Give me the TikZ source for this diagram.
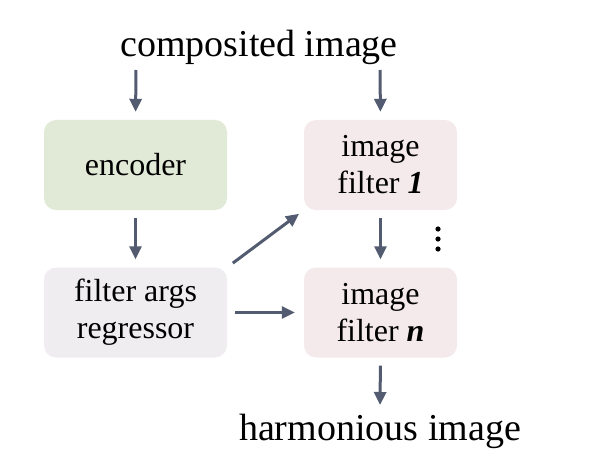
\documentclass[tikz,border=0pt]{standalone}
\usepackage{fontspec}
\setmainfont{Liberation Serif}
\usetikzlibrary{arrows.meta}
\definecolor{encgreen}{HTML}{E1EAD6}
\definecolor{fltpink}{HTML}{F5EAEB}
\definecolor{reggray}{HTML}{EFEDF0}
\definecolor{arrowslate}{HTML}{525B70}
\begin{document}
\begin{tikzpicture}[x=1pt,y=-1pt,
  box/.style={rounded corners=12pt, minimum height=90pt, align=center, inner sep=0pt,
    font=\fontsize{32}{37}\selectfont},
  lbl/.style={anchor=base, font=\fontsize{38}{44}\selectfont},
  flow/.style={-{Triangle[length=13pt,width=12pt]}, line width=3pt, arrowslate}]
\useasboundingbox (0,0) rectangle (610,468);
\node[lbl] (top) at (259,57) {composited image};
\node[lbl] (out) at (380,440) {harmonious image};
\node[box, fill=encgreen, minimum width=183pt] (enc) at (135.5,165) {encoder};
\node[box, fill=reggray, minimum width=183pt] (reg) at (135.5,312.5) {filter args\\regressor};
\node[box, fill=fltpink, minimum width=153pt] (flt1) at (380.5,165) {image\\filter \textbf{\textit{1}}};
\node[box, fill=fltpink, minimum width=153pt] (fltn) at (380.5,312.5) {image\\filter \textbf{\textit{n}}};
\coordinate (in1) at (136,70); \coordinate (in2) at (380,70); \coordinate (outtop) at (380,405);
\draw[flow, shorten >=8pt] (in1) -- (enc.north);
\draw[flow, shorten >=8pt] (in2) -- (flt1.north);
\draw[flow, shorten <=8pt, shorten >=8pt] (enc.south) -- (reg.north);
\draw[flow, shorten <=8pt, shorten >=8pt] (flt1.south) -- (fltn.north);
\draw[flow, shorten <=7pt, shorten >=6pt] (reg.north east) -- (flt1.south west);
\draw[flow, shorten <=8pt, shorten >=9pt] (reg.east) -- (fltn.west);
\draw[flow, shorten <=8pt] (fltn.south) -- (outtop);
\foreach \y in {229,239,249}
  \fill (438,\y) circle (2.6pt);
\end{tikzpicture}
\end{document}
